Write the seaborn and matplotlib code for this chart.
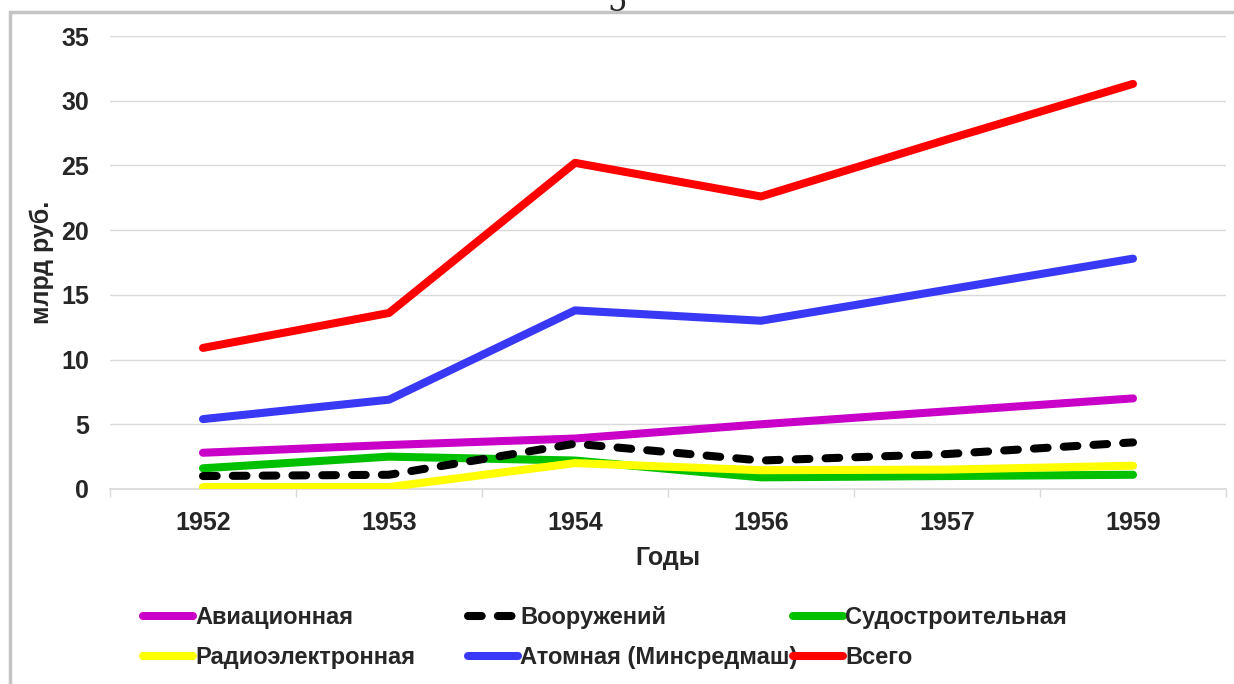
import matplotlib
matplotlib.use("Agg")
import matplotlib.pyplot as plt
import matplotlib.patches as mpatches
from matplotlib.ticker import FixedLocator
import seaborn as sns
import pandas as pd

years = ["1952", "1953", "1954", "1956", "1957", "1959"]
aviation = [2.8, 3.4, 3.9, 5.0, 6.0, 7.0]
weapons = [1.0, 1.1, 3.5, 2.2, 2.7, 3.6]
shipbuilding = [1.6, 2.5, 2.2, 0.9, 1.0, 1.1]
radio = [0.15, 0.15, 2.0, 1.45, 1.5, 1.8]
atomic = [5.4, 6.9, 13.8, 13.0, 15.4, 17.8]
total = [10.9, 13.6, 25.2, 22.6, 27.0, 31.3]

series_names = ["Авиационная", "Вооружений", "Судостроительная",
                "Радиоэлектронная", "Атомная (Минсредмаш)", "Всего"]
series_values = [aviation, weapons, shipbuilding, radio, atomic, total]
colors = ["#C800C8", "#000000", "#00C000", "#FFFF00", "#3838F5", "#FF0000"]

sns.set_theme(style="white")
plt.rcParams["font.family"] = ["Liberation Sans", "DejaVu Sans"]
plt.rcParams["font.weight"] = "bold"

fig = plt.figure(figsize=(12.34, 6.84), dpi=100)
ax = fig.add_axes([110/1234, 1 - 489/684, 1116/1234, 453/684])

lines = {}
for name, vals, col in zip(series_names, series_values, colors):
    df = pd.DataFrame({"year": years, "value": vals})
    kw = dict(solid_capstyle="round", dash_capstyle="round")
    if name == "Вооружений":
        kw["linestyle"] = (0, (1.7, 2.0))
        z = 4
    else:
        z = 3
    sns.lineplot(data=df, x="year", y="value", color=col, lw=5.8, ax=ax,
                 label=name, zorder=z, sort=False, **kw)
    lines[name] = ax.get_lines()[-1]

ax.get_legend().remove()
ax.set_xlim(-0.5, 5.5)
ax.set_ylim(0, 35)
ax.set_yticks([0, 5, 10, 15, 20, 25, 30, 35])
ax.yaxis.grid(True, color="#d9d9d9", lw=1)
ax.set_axisbelow(True)
for s in ["left", "right", "top"]:
    ax.spines[s].set_visible(False)
ax.spines["bottom"].set_color("#d9d9d9")
ax.spines["bottom"].set_linewidth(1.2)

ax.tick_params(axis="y", length=0, pad=15, labelsize=18)
ax.tick_params(axis="x", which="major", length=0, pad=16, labelsize=18)
ax.xaxis.set_minor_locator(FixedLocator([i - 0.5 for i in range(7)]))
ax.tick_params(axis="x", which="minor", length=6, width=1, color="#d9d9d9",
               bottom=True)
for lab in ax.get_xticklabels() + ax.get_yticklabels():
    lab.set_fontweight("bold")

ax.set_xlabel("Годы", fontsize=18, fontweight="bold", labelpad=8)
ax.set_ylabel("млрд руб.", fontsize=18, fontweight="bold")
ax.yaxis.set_label_coords((42 - 110) / 1116, 0.5)
ax.yaxis.label.set_verticalalignment("center")

# legend: three columns
columns = [["Авиационная", "Радиоэлектронная"],
           ["Вооружений", "Атомная (Минсредмаш)"],
           ["Судостроительная", "Всего"]]
xs = [143/1234, 468/1234, 793/1234]
for cols, x in zip(columns, xs):
    fig.legend([lines[c] for c in cols], cols, loc="center left",
               bbox_to_anchor=(x, 1 - 637.5/684), frameon=False,
               borderpad=0, borderaxespad=0, handlelength=2.1,
               handletextpad=0.1, labelspacing=0.7,
               prop={"size": 17, "weight": "bold"})

# frame of the picture
frame = mpatches.Rectangle((10/1234, -0.1), 1.2, 1 - 12/684 + 0.1,
                           transform=fig.transFigure, fill=False,
                           edgecolor="#c4c4c4", lw=2.5, zorder=0)
fig.patches.append(frame)
fig.text(617/1234, 1 - 11/684, "5", fontsize=22, family="DejaVu Serif",
         fontweight="normal", ha="center", va="baseline")

fig.savefig("out.png", dpi=100)
